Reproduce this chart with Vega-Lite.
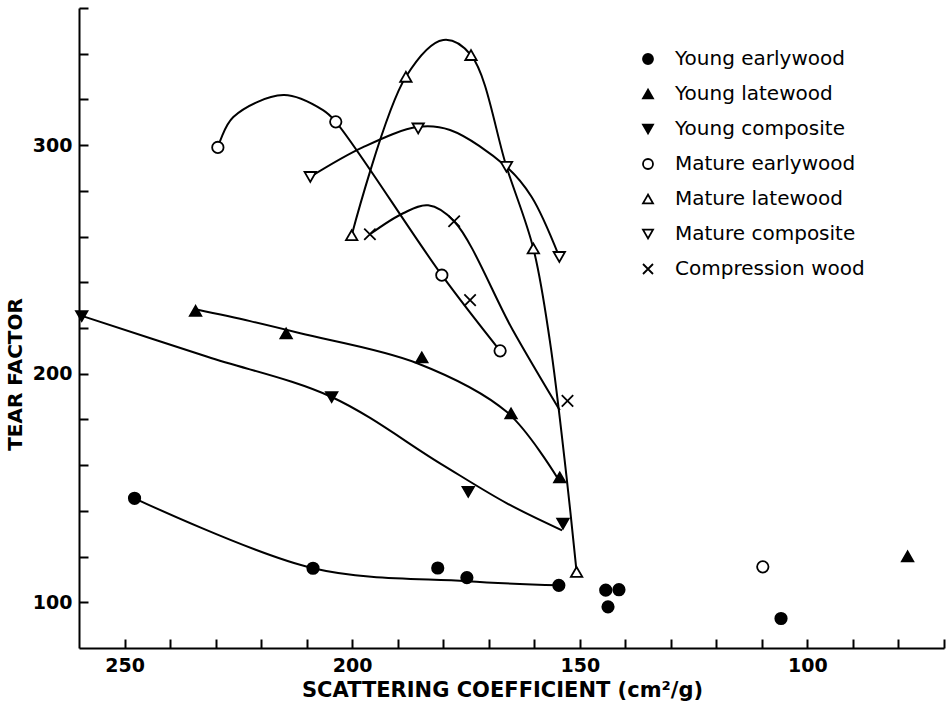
{
  "$schema": "https://vega.github.io/schema/vega-lite/v6.json",
  "width": 865,
  "height": 640,
  "autosize": {"type": "none"},
  "padding": {"left": 79, "top": 8, "right": 7, "bottom": 53},
  "background": "white",
  "config": {
    "view": {"stroke": null},
    "font": "DejaVu Sans",
    "legend": {
      "labelFontSize": 20, "labelFontWeight": "normal", "labelColor": "black", "labelLimit": 400,
      "symbolSize": 100, "symbolStrokeColor": "black", "symbolStrokeWidth": 1.8,
      "labelOffset": 17, "rowPadding": 15, "padding": 0
    }
  },
  "datasets": {
    "points": [
      {"series": "Young earlywood", "x": 247.8, "y": 145.5},
      {"series": "Young earlywood", "x": 208.6, "y": 114.9},
      {"series": "Young earlywood", "x": 181.2, "y": 115.0},
      {"series": "Young earlywood", "x": 174.8, "y": 110.8},
      {"series": "Young earlywood", "x": 154.6, "y": 107.4},
      {"series": "Young earlywood", "x": 144.3, "y": 105.3},
      {"series": "Young earlywood", "x": 141.4, "y": 105.5},
      {"series": "Young earlywood", "x": 143.8, "y": 98.0},
      {"series": "Young earlywood", "x": 105.8, "y": 92.9},
      {"series": "Young latewood", "x": 234.4, "y": 227.5},
      {"series": "Young latewood", "x": 214.5, "y": 217.6},
      {"series": "Young latewood", "x": 184.7, "y": 207.1},
      {"series": "Young latewood", "x": 165.1, "y": 182.6},
      {"series": "Young latewood", "x": 154.4, "y": 154.6},
      {"series": "Young latewood", "x": 78.0, "y": 120.1},
      {"series": "Young composite", "x": 259.4, "y": 225.2},
      {"series": "Young composite", "x": 204.5, "y": 189.8},
      {"series": "Young composite", "x": 174.5, "y": 148.3},
      {"series": "Young composite", "x": 153.7, "y": 134.4},
      {"series": "Mature earlywood", "x": 229.5, "y": 299.0},
      {"series": "Mature earlywood", "x": 203.6, "y": 310.2},
      {"series": "Mature earlywood", "x": 180.3, "y": 243.1},
      {"series": "Mature earlywood", "x": 167.5, "y": 210.0},
      {"series": "Mature earlywood", "x": 109.8, "y": 115.5},
      {"series": "Mature latewood", "x": 200.1, "y": 260.6},
      {"series": "Mature latewood", "x": 188.2, "y": 329.9},
      {"series": "Mature latewood", "x": 173.9, "y": 339.4},
      {"series": "Mature latewood", "x": 160.2, "y": 254.8},
      {"series": "Mature latewood", "x": 150.7, "y": 113.3},
      {"series": "Mature composite", "x": 209.2, "y": 286.1},
      {"series": "Mature composite", "x": 185.5, "y": 307.3},
      {"series": "Mature composite", "x": 166.1, "y": 290.5},
      {"series": "Mature composite", "x": 154.5, "y": 251.1},
      {"series": "Compression wood", "x": 196.1, "y": 261.0},
      {"series": "Compression wood", "x": 177.6, "y": 266.7},
      {"series": "Compression wood", "x": 174.1, "y": 232.2},
      {"series": "Compression wood", "x": 152.7, "y": 188.1}
    ],
    "curves": [
      {"series": "Young earlywood", "i": 1, "x": 247.8, "y": 145.5},
      {"series": "Young earlywood", "i": 2, "x": 208.6, "y": 114.9},
      {"series": "Young earlywood", "i": 3, "x": 174.8, "y": 109.2},
      {"series": "Young earlywood", "i": 4, "x": 154.6, "y": 107.4},
      {"series": "Young latewood", "i": 1, "x": 234.4, "y": 228.2},
      {"series": "Young latewood", "i": 2, "x": 222.4, "y": 223.0},
      {"series": "Young latewood", "i": 3, "x": 211.4, "y": 217.7},
      {"series": "Young latewood", "i": 4, "x": 185.7, "y": 204.6},
      {"series": "Young latewood", "i": 5, "x": 166.0, "y": 183.2},
      {"series": "Young latewood", "i": 6, "x": 155.0, "y": 154.7},
      {"series": "Young composite", "i": 1, "x": 259.2, "y": 225.2},
      {"series": "Young composite", "i": 2, "x": 231.8, "y": 207.4},
      {"series": "Young composite", "i": 3, "x": 204.4, "y": 189.7},
      {"series": "Young composite", "i": 4, "x": 180.7, "y": 160.8},
      {"series": "Young composite", "i": 5, "x": 166.0, "y": 143.3},
      {"series": "Young composite", "i": 6, "x": 153.9, "y": 131.5},
      {"series": "Mature earlywood", "i": 1, "x": 229.5, "y": 299.0},
      {"series": "Mature earlywood", "i": 2, "x": 226.1, "y": 312.3},
      {"series": "Mature earlywood", "i": 3, "x": 215.1, "y": 321.9},
      {"series": "Mature earlywood", "i": 4, "x": 206.4, "y": 315.3},
      {"series": "Mature earlywood", "i": 5, "x": 203.6, "y": 310.2},
      {"series": "Mature earlywood", "i": 6, "x": 180.3, "y": 243.1},
      {"series": "Mature earlywood", "i": 7, "x": 167.5, "y": 210.0},
      {"series": "Mature latewood", "i": 1, "x": 200.1, "y": 260.6},
      {"series": "Mature latewood", "i": 2, "x": 188.2, "y": 329.9},
      {"series": "Mature latewood", "i": 3, "x": 180.0, "y": 346.0},
      {"series": "Mature latewood", "i": 4, "x": 173.9, "y": 339.4},
      {"series": "Mature latewood", "i": 5, "x": 166.0, "y": 289.9},
      {"series": "Mature latewood", "i": 6, "x": 160.2, "y": 254.8},
      {"series": "Mature latewood", "i": 7, "x": 156.6, "y": 214.7},
      {"series": "Mature latewood", "i": 8, "x": 152.9, "y": 154.7},
      {"series": "Mature latewood", "i": 9, "x": 150.7, "y": 113.3},
      {"series": "Mature composite", "i": 1, "x": 209.2, "y": 286.1},
      {"series": "Mature composite", "i": 2, "x": 197.6, "y": 299.1},
      {"series": "Mature composite", "i": 3, "x": 185.5, "y": 308.0},
      {"series": "Mature composite", "i": 4, "x": 178.5, "y": 306.6},
      {"series": "Mature composite", "i": 5, "x": 166.1, "y": 290.5},
      {"series": "Mature composite", "i": 6, "x": 160.6, "y": 277.4},
      {"series": "Mature composite", "i": 7, "x": 154.5, "y": 251.1},
      {"series": "Compression wood", "i": 1, "x": 196.1, "y": 261.0},
      {"series": "Compression wood", "i": 2, "x": 188.8, "y": 270.2},
      {"series": "Compression wood", "i": 3, "x": 183.3, "y": 273.7},
      {"series": "Compression wood", "i": 4, "x": 177.6, "y": 266.7},
      {"series": "Compression wood", "i": 5, "x": 164.7, "y": 219.0},
      {"series": "Compression wood", "i": 6, "x": 154.4, "y": 184.0}
    ]
  },
  "layer": [
    {
      "data": {"name": "curves"},
      "mark": {"type": "line", "interpolate": "catmull-rom", "stroke": "black", "strokeWidth": 2},
      "encoding": {
        "x": {
          "field": "x", "type": "quantitative",
          "scale": {"domain": [260, 70], "nice": false, "zero": false},
          "axis": {
            "title": "SCATTERING  COEFFICIENT (cm²/g)",
            "values": [70, 80, 90, 100, 110, 120, 130, 140, 150, 160, 170, 180, 190, 200, 210, 220, 230, 240, 250],
            "labelExpr": "datum.value % 50 == 0 ? datum.label : ''",
            "grid": false,
            "tickSize": -9, "tickWidth": 2, "tickColor": "black",
            "domainColor": "black", "domainWidth": 2,
            "labelFontSize": 19, "labelFontWeight": "bold", "labelColor": "black", "labelPadding": 17,
            "titleFontSize": 21, "titleFontWeight": "bold", "titleColor": "black",
            "titleX": 423, "titlePadding": 4
          }
        },
        "y": {
          "field": "y", "type": "quantitative",
          "scale": {"domain": [80, 360], "nice": false, "zero": false},
          "axis": {
            "title": "TEAR  FACTOR",
            "values": [100, 120, 140, 160, 180, 200, 220, 240, 260, 280, 300, 320, 340, 360],
            "labelExpr": "datum.value % 100 == 0 ? datum.label : ''",
            "grid": false,
            "tickSize": -9, "tickWidth": 2, "tickColor": "black",
            "domainColor": "black", "domainWidth": 2,
            "labelFontSize": 19, "labelFontWeight": "bold", "labelColor": "black", "labelPadding": 16,
            "titleFontSize": 20, "titleFontWeight": "bold", "titleColor": "black",
            "titleX": -64, "titleY": 366, "titleAngle": -90, "titleAlign": "center", "titleBaseline": "middle"
          }
        },
        "detail": {"field": "series"},
        "order": {"field": "i", "type": "quantitative"}
      }
    },
    {
      "data": {"name": "points"},
      "mark": {"type": "point", "strokeWidth": 1.8, "opacity": 1, "size": 130},
      "encoding": {
        "x": {"field": "x", "type": "quantitative"},
        "y": {"field": "y", "type": "quantitative"},
        "shape": {
          "field": "series", "type": "nominal",
          "scale": {
            "domain": ["Young earlywood", "Young latewood", "Young composite", "Mature earlywood", "Mature latewood", "Mature composite", "Compression wood"],
            "range": ["circle", "triangle-up", "triangle-down", "circle", "triangle-up", "triangle-down", "M-1,-1L1,1M-1,1L1,-1"]
          },
          "legend": {"orient": "none", "legendX": 559, "legendY": 41, "title": null, "symbolStrokeColor": "black"}
        },
        "fill": {
          "field": "series", "type": "nominal",
          "scale": {
            "domain": ["Young earlywood", "Young latewood", "Young composite", "Mature earlywood", "Mature latewood", "Mature composite", "Compression wood"],
            "range": ["black", "black", "black", "white", "white", "white", "black"]
          },
          "legend": {"orient": "none", "legendX": 559, "legendY": 41, "title": null, "symbolStrokeColor": "black"}
        },
        "stroke": {
          "field": "series", "type": "nominal",
          "scale": {
            "domain": ["Young earlywood", "Young latewood", "Young composite", "Mature earlywood", "Mature latewood", "Mature composite", "Compression wood"],
            "range": ["black", "black", "black", "black", "black", "black", "black"]
          },
          "legend": {"orient": "none", "legendX": 559, "legendY": 41, "title": null, "symbolStrokeColor": "black"}
        }
      }
    }
  ]
}
